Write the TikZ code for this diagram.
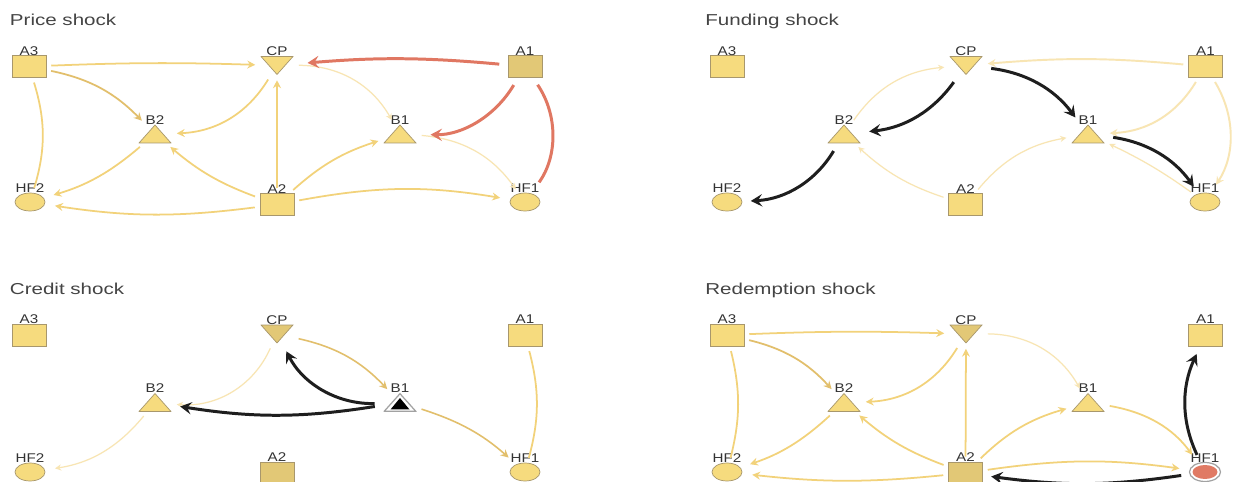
\documentclass[tikz,border=0pt]{standalone}
\usepackage{fontspec}
\setmainfont{Liberation Sans}
\usepackage{graphicx}
\usetikzlibrary{arrows.meta,shapes.geometric}

\definecolor{nodeY}{HTML}{F6DB7E}
\definecolor{nodeD}{HTML}{E2C876}
\definecolor{nodeLine}{HTML}{A8976C}
\definecolor{eY}{HTML}{F2D27A}
\definecolor{eT}{HTML}{E2BF6C}
\definecolor{eL}{HTML}{F8E5B3}
\definecolor{eR}{HTML}{E07762}
\definecolor{eB}{HTML}{1E1E1E}
\definecolor{txt}{HTML}{333333}
\definecolor{ttl}{HTML}{444444}
\definecolor{shockRed}{HTML}{E07A64}
\definecolor{ringGray}{HTML}{A2A2A2}

% slightly widened lettering
\newcommand\nlab[1]{\scalebox{1.2}[1]{#1}}
\newcommand\ntitle[1]{\scalebox{1.3}[1]{#1}}

\begin{document}
\begin{tikzpicture}[x=0.02cm,y=0.02cm,
  lbl/.style={font=\fontsize{7.2}{8.5}\selectfont, text=txt, inner sep=0pt},
  ttlsty/.style={font=\fontsize{9}{11}\selectfont, text=ttl, inner sep=0pt, anchor=base west},
  nd/.style={inner sep=0pt, outer sep=0pt, label distance=0.07cm},
  sq/.style={nd, rectangle, draw=nodeLine, line width=0.4pt, fill=#1,
    minimum width=0.68cm, minimum height=0.44cm},
  sq/.default=nodeY,
  ov/.style={nd, ellipse, draw=nodeLine, line width=0.4pt, fill=#1,
    minimum width=0.60cm, minimum height=0.36cm},
  ov/.default=nodeY,
  tup/.style={nd, rectangle, minimum width=0.66cm, minimum height=0.38cm,
    path picture={\filldraw[fill=#1, draw=nodeLine, line width=0.4pt]
      ([shift={(0.3pt,0.3pt)}]path picture bounding box.south west) --
      ([shift={(-0.3pt,0.3pt)}]path picture bounding box.south east) --
      ([shift={(0pt,-0.3pt)}]path picture bounding box.north) -- cycle;}},
  tup/.default=nodeY,
  tdn/.style={nd, rectangle, minimum width=0.66cm, minimum height=0.38cm,
    path picture={\filldraw[fill=#1, draw=nodeLine, line width=0.4pt]
      ([shift={(0.3pt,-0.3pt)}]path picture bounding box.north west) --
      ([shift={(-0.3pt,-0.3pt)}]path picture bounding box.north east) --
      ([shift={(0pt,0.3pt)}]path picture bounding box.south) -- cycle;}},
  tdn/.default=nodeY,
  tspec/.style={nd, rectangle, minimum width=0.66cm, minimum height=0.38cm,
    path picture={\filldraw[fill=white, draw=ringGray, line width=0.7pt]
      ([shift={(0.4pt,0.4pt)}]path picture bounding box.south west) --
      ([shift={(-0.4pt,0.4pt)}]path picture bounding box.south east) --
      ([shift={(0pt,-0.4pt)}]path picture bounding box.north) -- cycle;
      \fill[black]
      ([shift={(-0.19cm,-0.14cm)}]path picture bounding box.center) --
      ([shift={(0.19cm,-0.14cm)}]path picture bounding box.center) --
      ([shift={(0cm,0.09cm)}]path picture bounding box.center) -- cycle;}},
  ovred/.style={nd, ellipse, draw=ringGray, line width=0.7pt, fill=white,
    minimum width=0.62cm, minimum height=0.38cm,
    path picture={\fill[shockRed] (path picture bounding box.center)
      ellipse [x radius=0.25cm, y radius=0.14cm];}},
  ey/.style={draw=eY, line width=1pt, -{Stealth[length=4.5pt,width=4.5pt,inset=1.5pt]},
    shorten >=3pt, shorten <=3pt},
  et/.style={ey, draw=eT},
  el/.style={draw=eL, line width=0.7pt, -{Stealth[length=3.5pt,width=3.5pt,inset=1.2pt]},
    shorten >=3pt, shorten <=3pt},
  elw/.style={ey, draw=eL, line width=1.1pt},
  er/.style={draw=eR, line width=1.7pt, -{Stealth[length=6.5pt,width=7pt,inset=2.5pt]},
    shorten >=8pt, shorten <=5pt},
  eb/.style={er, draw=eB, shorten >=5pt},
  toE/.style={shorten >=6pt}
]
\path[use as bounding box, fill=white] (0,0) rectangle (1241,-482);

% ---------------- Price shock ----------------
\node[ttlsty] (tP) at (9.6,-25.5) {\ntitle{Price shock}};
\node[sq, label={[lbl]above:\nlab{A3}}] (pA3) at (29,-66.5) {};
\node[tdn, label={[lbl]above:\nlab{CP}}] (pCP) at (277,-65.5) {};
\node[sq=nodeD, label={[lbl]above:\nlab{A1}}] (pA1) at (525,-66.5) {};
\node[tup, label={[lbl]above:\nlab{B2}}] (pB2) at (155,-134) {};
\node[tup, label={[lbl]above:\nlab{B1}}] (pB1) at (400,-134) {};
\node[ov, label={[lbl]above:\nlab{HF2}}] (pHF2) at (30,-202) {};
\node[sq, label={[lbl]above:\nlab{A2}}] (pA2) at (277,-204.5) {};
\node[ov, label={[lbl]above:\nlab{HF1}}] (pHF1) at (525,-202) {};

\draw[ey] (pA3) to[bend left=2] (pCP);
\draw[et] (pA3) to[bend left=17] (pB2);
\draw[ey,-] (pA3) to[bend left=17] (pHF2);
\draw[ey] (pCP) to[bend left=28] (pB2);
\draw[el] (pCP) to[bend left=30] (pB1);
\draw[ey] (pA2) to (pCP);
\draw[ey] (pA2) to[bend left=10] (pB2);
\draw[ey] (pA2) to[bend left=12] (pB1);
\draw[ey,toE] (pA2) to[bend left=8] (pHF2);
\draw[ey,toE] (pA2) to[bend left=10] (pHF1);
\draw[ey,toE] (pB2) to[bend left=12] (pHF2);
\draw[el] (pB1) to[bend left=25] (pHF1);
\draw[er] (pA1) to[bend right=5] (pCP);
\draw[er] (pA1) to[bend left=30] (pB1);
\draw[er,-] (pA1) to[bend left=35] (pHF1);

% ---------------- Funding shock ----------------
\node[ttlsty] (tF) at (705,-25.5) {\ntitle{Funding shock}};
\node[sq, label={[lbl]above:\nlab{A3}}] (fA3) at (727,-66.5) {};
\node[tdn, label={[lbl]above:\nlab{CP}}] (fCP) at (966,-65.5) {};
\node[sq, label={[lbl]above:\nlab{A1}}] (fA1) at (1205.5,-66.5) {};
\node[tup, label={[lbl]above:\nlab{B2}}] (fB2) at (844,-134) {};
\node[tup, label={[lbl]above:\nlab{B1}}] (fB1) at (1088,-134) {};
\node[ov, label={[lbl]above:\nlab{HF2}}] (fHF2) at (727,-202) {};
\node[sq, label={[lbl]above:\nlab{A2}}] (fA2) at (965.5,-204.5) {};
\node[ov, label={[lbl]above:\nlab{HF1}}] (fHF1) at (1205,-202) {};

\draw[elw] (fA1) to[bend right=5] (fCP);
\draw[elw] (fA1) to[bend left=28] (fB1);
\draw[elw,toE] (fA1) to[bend left=32] (fHF1);
\draw[el] (fB2) to[bend left=25] (fCP);
\draw[el] (fA2) to[bend left=12] (fB2);
\draw[el] (fA2) to[bend left=20] (fB1);
\draw[el] (fHF1) to[bend right=5] (fB1);
\draw[eb] (fCP) to[bend left=24] (fB2);
\draw[eb] (fCP) to[bend left=23] (fB1);
\draw[eb] (fB1) to[bend left=23] (fHF1);
\draw[eb] (fB2) to[bend left=28] (fHF2);

% ---------------- Credit shock ----------------
\node[ttlsty] (tC) at (9.6,-295) {\ntitle{Credit shock}};
\node[sq, label={[lbl]above:\nlab{A3}}] (cA3) at (29,-335) {};
\node[tdn=nodeD, label={[lbl]above:\nlab{CP}}] (cCP) at (277,-334) {};
\node[sq, label={[lbl]above:\nlab{A1}}] (cA1) at (525,-335) {};
\node[tup, label={[lbl]above:\nlab{B2}}] (cB2) at (155,-402.5) {};
\node[tspec, label={[lbl]above:\nlab{B1}}] (cB1) at (400,-402.5) {};
\node[ov, label={[lbl]above:\nlab{HF2}}] (cHF2) at (30,-472) {};
\node[sq=nodeD, label={[lbl]above:\nlab{A2}}] (cA2) at (277,-473) {};
\node[ov, label={[lbl]above:\nlab{HF1}}] (cHF1) at (525,-472) {};

\draw[el] (cCP) to[bend left=35] (cB2);
\draw[et, line width=0.9pt] (cCP) to[bend left=17] (cB1);
\draw[et, line width=0.9pt, toE] (cB1) to[bend left=12] (cHF1);
\draw[el, toE] (cB2) to[bend left=21] (cHF2);
\draw[ey,-] (cA1) to[bend left=15] (cHF1);
\draw[eb] (cB1) to[bend left=32] (cCP);
\draw[eb] (cB1) to[bend left=9] (cB2);

% ---------------- Redemption shock ----------------
\node[ttlsty] (tR) at (705,-295) {\ntitle{Redemption shock}};
\node[sq, label={[lbl]above:\nlab{A3}}] (rA3) at (727,-335) {};
\node[tdn=nodeD, label={[lbl]above:\nlab{CP}}] (rCP) at (966,-334) {};
\node[sq, label={[lbl]above:\nlab{A1}}] (rA1) at (1205.5,-335) {};
\node[tup, label={[lbl]above:\nlab{B2}}] (rB2) at (844,-402.5) {};
\node[tup, label={[lbl]above:\nlab{B1}}] (rB1) at (1088,-402.5) {};
\node[ov, label={[lbl]above:\nlab{HF2}}] (rHF2) at (727,-472) {};
\node[sq=nodeD, label={[lbl]above:\nlab{A2}}] (rA2) at (965.5,-473) {};
\node[ovred, label={[lbl]above:\nlab{HF1}}] (rHF1) at (1205,-472) {};

\draw[ey] (rA3) to[bend left=2] (rCP);
\draw[et] (rA3) to[bend left=17] (rB2);
\draw[ey,-] (rA3) to[bend left=14] (rHF2);
\draw[ey] (rCP) to[bend left=28] (rB2);
\draw[el] (rCP) to[bend left=30] (rB1);
\draw[ey] (rA2) to (rCP);
\draw[ey] (rA2) to[bend left=10] (rB2);
\draw[ey] (rA2) to[bend left=14] (rB1);
\draw[ey,toE] (rA2) to[bend left=6] (rHF2);
\draw[ey,toE] (rA2) to[bend left=8] (rHF1);
\draw[ey,toE] (rB2) to[bend left=12] (rHF2);
\draw[ey,toE] (rB1) to[bend left=22] (rHF1);
\draw[eb] (rHF1) to[bend left=25] (rA1);
\draw[eb] (rHF1) to[bend left=8] (rA2);
\end{tikzpicture}
\end{document}
